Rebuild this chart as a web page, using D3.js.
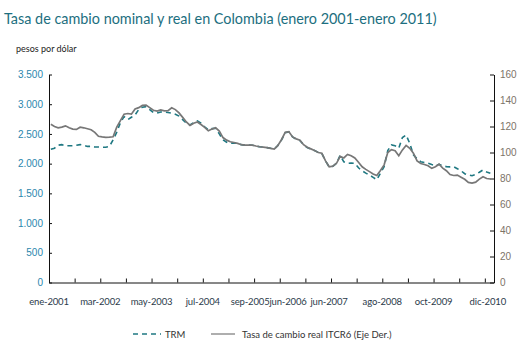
<!DOCTYPE html>
<html>
<head>
<meta charset="utf-8">
<script src="https://cdn.jsdelivr.net/npm/d3@7"></script>
<style>
  body { margin: 0; background: #fff; }
  svg { display: block; font-family: Lato, "Open Sans", sans-serif; }
</style>
</head>
<body>
<svg></svg>
<script>
// monthly values, ene-2001 .. ene-2011
const trm = [
  2242, 2260, 2310, 2320, 2300, 2300, 2300, 2310, 2320, 2310, 2290, 2290,
  2280, 2280, 2275, 2275, 2290, 2400, 2530, 2690, 2790, 2740, 2780, 2819,
  2910, 2950, 2960, 2910, 2860, 2850, 2870, 2870, 2860, 2850, 2830, 2800,
  2740, 2680, 2650, 2690, 2720, 2680, 2620, 2570, 2590, 2595, 2500, 2400,
  2360, 2340, 2350, 2340, 2320, 2312, 2312, 2310, 2296, 2284, 2278, 2270,
  2258, 2247, 2305, 2400, 2520, 2535, 2450, 2410, 2390, 2320, 2270, 2245,
  2220, 2190, 2170, 2045, 1945, 1955, 2005, 2140, 2030, 2006, 2010, 2006,
  1930, 1880, 1840, 1809, 1770, 1728, 1840, 1950, 2220, 2314, 2300, 2259,
  2440, 2482, 2340, 2150, 2080, 2033, 2020, 2006, 1985, 1966, 1989, 1965,
  1950, 1945, 1949, 1915, 1880, 1830, 1810, 1797, 1820, 1855, 1893, 1860, 1838
];
const itcr = [
  121.7, 120, 119, 119.5, 120.5, 119, 118, 117.8, 119.5, 119, 118.3, 117.5,
  115.5, 112.5, 112, 111.7, 111.8, 112.1, 119.5, 124.5, 129.5, 130, 129.5, 133.5,
  134.5, 136.2, 136.5, 134.5, 132.5, 131.8, 132.7, 132, 132.2, 134.4, 133, 130.5,
  127, 123.5, 120.8, 122.5, 123.5, 121.5, 119.3, 116.7, 118, 119, 116.5, 111.5,
  109.5, 108.3, 107.7, 107, 106, 105.7, 105.7, 105.7, 105, 104.4, 104.2, 103.8,
  103.2, 102.7, 105.5, 110, 115.5, 116, 112, 110.5, 109.5, 106, 104, 102.8,
  101.5, 100, 99.4, 93.5, 89, 89.5, 91.7, 97, 95.8, 98.5, 97.5, 95.8,
  92.5, 89, 87, 85.3, 83.5, 82.3, 86.2, 90.5, 100, 102.2, 101.3, 97.5,
  102, 105.5, 103.2, 99.5, 93.5, 91.5, 90.8, 89.8, 87.8, 89, 91, 88,
  86, 83, 82.3, 82.6, 81, 79.4, 77, 76.5, 77.2, 79.5, 81.3, 80, 79.6
];
const monthLabels = [
  [0, "ene-2001"], [14, "mar-2002"], [28, "may-2003"], [42, "jul-2004"],
  [56, "sep-2005"], [65, "jun-2006"], [77, "jun-2007"], [91, "ago-2008"],
  [105, "oct-2009"], [119, "dic-2010"]
];
const leftTicks = [0, 500, 1000, 1500, 2000, 2500, 3000, 3500];
const rightTicks = [0, 20, 40, 60, 80, 100, 120, 140, 160];

const svg = d3.select("svg").attr("width", 526).attr("height", 359);

const plotL = 49, plotR = 494, plotT = 74.5, plotB = 282.5;

const x = d3.scaleLinear().domain([0, 121.5]).range([plotL, plotR]);
const yL = d3.scaleLinear().domain([0, 3500]).range([plotB, plotT]);
const yR = d3.scaleLinear().domain([0, 160]).range([plotB, plotT]);

// title
svg.append("text")
  .attr("x", 4).attr("y", 24)
  .attr("fill", "#1d6f80")
  .style("font-size", "14.4px")
  .text("Tasa de cambio nominal y real en Colombia (enero 2001-enero 2011)");

svg.append("text")
  .attr("x", 16).attr("y", 52)
  .attr("fill", "#222")
  .style("font-size", "9px")
  .text("pesos por dólar");

// axes
const fmt = d3.formatLocale({ decimal: ",", thousands: ".", grouping: [3], currency: ["", ""] }).format(",d");

const axL = svg.append("g")
  .attr("transform", `translate(${plotL},0)`)
  .call(d3.axisLeft(yL).tickValues(leftTicks).tickFormat(fmt).tickSizeInner(-3).tickSizeOuter(0).tickPadding(6));
axL.selectAll("text").attr("fill", "#2a86ad").style("font-size", "10px");

const axR = svg.append("g")
  .attr("transform", `translate(${plotR},0)`)
  .call(d3.axisRight(yR).tickValues(rightTicks).tickSizeInner(-4).tickSizeOuter(0).tickPadding(6));
axR.selectAll("text").attr("fill", "#7d7468").style("font-size", "10px");

svg.append("g")
  .attr("transform", `translate(0,${plotB})`)
  .call(d3.axisBottom(x).tickValues(d3.range(0, 120, 7)).tickFormat("").tickSizeInner(-4).tickSizeOuter(0));

svg.selectAll(".domain").attr("stroke", "#111");
svg.selectAll(".tick line").attr("stroke", "#111");

// crowded labels in the middle are nudged apart, as in the original
const nudge = { "sep-2005": -4, "jun-2006": 1, "jun-2007": -2, "dic-2010": 3 };

svg.append("g").selectAll("text")
  .data(monthLabels)
  .join("text")
  .attr("x", d => x(d[0]) + (nudge[d[1]] || 0))
  .attr("y", 305)
  .attr("text-anchor", "middle")
  .attr("fill", "#2b3a4a")
  .style("font-size", "9.5px")
  .style("letter-spacing", "-0.15px")
  .text(d => d[1]);

// lines
const lineL = d3.line().x((d, i) => x(i + 0.5)).y(d => yL(d));
const lineR = d3.line().x((d, i) => x(i + 0.5)).y(d => yR(d));

svg.append("path")
  .datum(trm)
  .attr("d", lineL)
  .attr("fill", "none")
  .attr("stroke", "#1f7882")
  .attr("stroke-width", 1.6)
  .attr("stroke-dasharray", "5,4");

svg.append("path")
  .datum(itcr)
  .attr("d", lineR)
  .attr("fill", "none")
  .attr("stroke", "#777")
  .attr("stroke-width", 1.7);

// legend
const lg = svg.append("g").attr("transform", "translate(0,334)");
lg.append("line").attr("x1", 133).attr("x2", 161).attr("y1", 0).attr("y2", 0)
  .attr("stroke", "#1f7882").attr("stroke-width", 1.6).attr("stroke-dasharray", "5,4");
lg.append("text").attr("x", 165).attr("y", 3.5).style("font-size", "9.5px").attr("fill", "#333").text("TRM");
lg.append("line").attr("x1", 211).attr("x2", 235).attr("y1", 0).attr("y2", 0)
  .attr("stroke", "#777").attr("stroke-width", 1.2);
lg.append("text").attr("x", 242).attr("y", 3.5).style("font-size", "9.5px").attr("fill", "#333")
  .text("Tasa de cambio real ITCR6 (Eje Der.)");
</script>
</body>
</html>
